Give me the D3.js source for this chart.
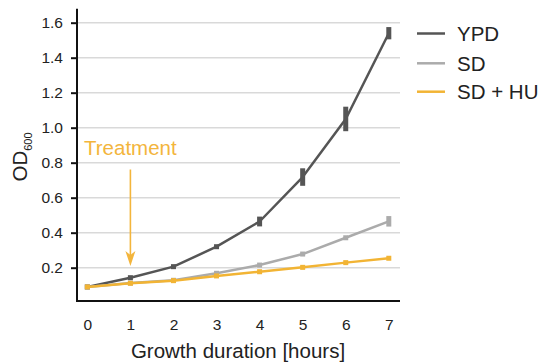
<!DOCTYPE html>
<html><head><meta charset="utf-8">
<script src="https://cdn.jsdelivr.net/npm/d3@7/dist/d3.min.js"></script>
<style>
html,body{margin:0;padding:0;background:#fff;}
svg{display:block;font-family:"Liberation Sans",Arial,sans-serif;}
</style></head>
<body>
<svg id="chart" width="546" height="364"></svg>
<script>
const hours = [0, 1, 2, 3, 4, 5, 6, 7];
const seriesNames = ["YPD", "SD", "SD + HU"];
const ypd = [0.09, 0.143, 0.206, 0.32, 0.464, 0.718, 1.05, 1.54];
const ypdErr = [0.005, 0.008, 0.008, 0.012, 0.028, 0.05, 0.07, 0.035];
const sd = [0.09, 0.112, 0.128, 0.168, 0.215, 0.278, 0.371, 0.465];
const sdErr = [0.005, 0.005, 0.006, 0.008, 0.01, 0.01, 0.01, 0.03];
const sdhu = [0.09, 0.111, 0.126, 0.153, 0.177, 0.202, 0.229, 0.254];
const sdhuErr = [0.005, 0.005, 0.005, 0.006, 0.006, 0.006, 0.006, 0.008];
const yTicks = [0.2, 0.4, 0.6, 0.8, 1.0, 1.2, 1.4, 1.6];
const treatmentHour = 1;
const colors = ["#555555", "#ababab", "#f2b434"];

const svg = d3.select("#chart");
const x = d3.scaleLinear().domain([-0.24, 7.26]).range([77, 400]);
const y = d3.scaleLinear().domain([0, 1.68]).range([302.7, 8.7]);

// gridlines
svg.append("g").selectAll("line").data(yTicks).join("line")
  .attr("x1", x(-0.24)).attr("x2", x(7.26))
  .attr("y1", d => y(d)).attr("y2", d => y(d))
  .attr("stroke", "#d9d9d9").attr("stroke-width", 1.5);

// y axis
const yAxis = svg.append("g").attr("transform", `translate(${x(-0.24)},0)`)
  .call(d3.axisLeft(y).tickValues(yTicks).tickFormat(d3.format(".1f")).tickSize(6).tickPadding(8));
yAxis.select(".domain").remove();
yAxis.selectAll(".tick line").attr("stroke", "#111").attr("stroke-width", 2);
yAxis.selectAll(".tick text").attr("font-size", 15.5).attr("fill", "#222")
  .attr("font-family", "Liberation Sans, Arial, sans-serif");
svg.append("line").attr("x1", x(-0.24)).attr("x2", x(-0.24))
  .attr("y1", y(1.68)).attr("y2", 302).attr("stroke", "#111").attr("stroke-width", 2);

// x axis
const xAxis = svg.append("g").attr("transform", `translate(0,301)`)
  .call(d3.axisBottom(x).tickValues(hours).tickFormat(d3.format("d")).tickSize(0).tickPadding(18));
xAxis.select(".domain").remove();
xAxis.selectAll(".tick text").attr("font-size", 15.5).attr("fill", "#222")
  .attr("font-family", "Liberation Sans, Arial, sans-serif");
svg.append("line").attr("x1", x(-0.24) - 1).attr("x2", x(7.26))
  .attr("y1", 301).attr("y2", 301).attr("stroke", "#111").attr("stroke-width", 2);

// axis titles
svg.append("text").attr("x", 238).attr("y", 358).attr("text-anchor", "middle")
  .attr("font-size", 20.5).attr("fill", "#222").text("Growth duration [hours]");
const yt = svg.append("text").attr("transform", "translate(26.5,157) rotate(-90)")
  .attr("text-anchor", "middle").attr("fill", "#222").attr("font-size", 20.5);
yt.append("tspan").text("OD");
yt.append("tspan").attr("font-size", 11).attr("dy", 5).text("600");

// series
const data = [
  {name: seriesNames[0], v: ypd, e: ypdErr, c: colors[0]},
  {name: seriesNames[1], v: sd, e: sdErr, c: colors[1]},
  {name: seriesNames[2], v: sdhu, e: sdhuErr, c: colors[2]}
];
const line = d3.line().x((d, i) => x(hours[i])).y(d => y(d));
const g = svg.append("g");
data.forEach(s => {
  g.append("path").attr("d", line(s.v)).attr("fill", "none")
    .attr("stroke", s.c).attr("stroke-width", 2.5).attr("stroke-linejoin", "round");
  g.selectAll(null).data(s.v).join("rect")
    .attr("x", (d, i) => x(hours[i]) - 2.5)
    .attr("width", 5)
    .attr("y", (d, i) => Math.min(y(d + s.e[i]), y(d) - 2.5))
    .attr("height", (d, i) => Math.max(y(d - s.e[i]) - y(d + s.e[i]), 5))
    .attr("fill", s.c);
});

// treatment annotation
const orange = "#f3b53c";
svg.append("text").attr("x", 84).attr("y", 155).attr("font-size", 20.5)
  .attr("fill", orange).text("Treatment");
const ax = x(treatmentHour);
svg.append("line").attr("x1", ax).attr("x2", ax).attr("y1", 169.5).attr("y2", 256)
  .attr("stroke", orange).attr("stroke-width", 1.6);
svg.append("path").attr("d", `M${ax - 5},${251} L${ax},${266} L${ax + 5},${251} L${ax},${255} Z`)
  .attr("fill", orange);

// legend
const lg = svg.append("g");
data.forEach((s, i) => {
  const ly = [33.5, 63.3, 91.7][i];
  lg.append("line").attr("x1", 417).attr("x2", 445).attr("y1", ly).attr("y2", ly)
    .attr("stroke", s.c).attr("stroke-width", 2.5);
  lg.append("text").attr("x", 457).attr("y", ly + 7.5).attr("font-size", 20.5)
    .attr("fill", "#222").text(s.name);
});
</script>
</body></html>
